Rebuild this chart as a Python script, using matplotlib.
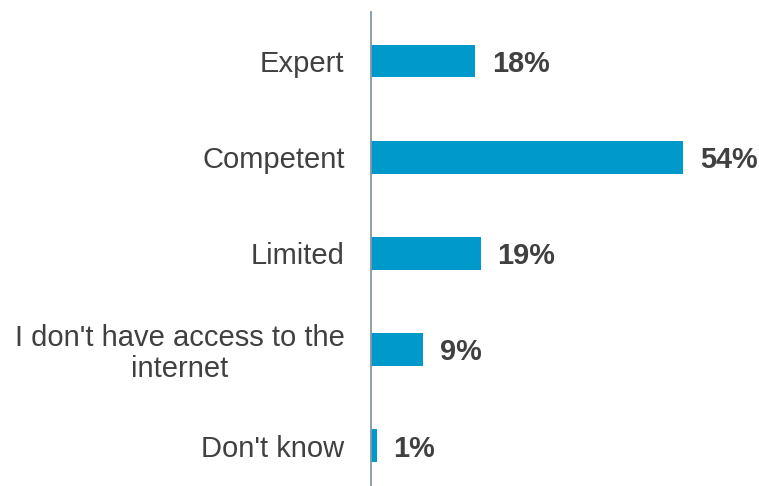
import matplotlib.pyplot as plt

plt.rcParams['font.family'] = ['Liberation Sans', 'DejaVu Sans']

categories = ['Expert', 'Competent', 'Limited',
              "I don't have access to the\ninternet", "Don't know"]
values = [18, 54, 19, 9, 1]

bar_color = '#0099CC'
text_color = '#404040'

fig = plt.figure(figsize=(7.59, 4.86), dpi=100)
ax = fig.add_axes([371 / 759, 0, 370 / 759, 474 / 486])

pos = list(range(len(categories)))
ax.barh(pos, values, height=0.34, color=bar_color, zorder=2)

for p, v in zip(pos, values):
    ax.text(v + 2.9, p + 0.03, f'{v}%', va='center', ha='left',
            fontsize=20.8, fontweight='bold', color=text_color)

ax.set_xlim(0, 64)
ax.set_ylim(4.42, -0.51)
ax.set_yticks(pos)
ax.set_yticklabels(categories, fontsize=21, color=text_color,
                   multialignment='center', linespacing=1.1)
ax.tick_params(axis='y', length=0, pad=19)
ax.set_xticks([])

for side in ['top', 'right', 'bottom']:
    ax.spines[side].set_visible(False)
ax.spines['left'].set_color('#8497A8')
ax.spines['left'].set_linewidth(1.3)

fig.savefig('out.png', dpi=100)
